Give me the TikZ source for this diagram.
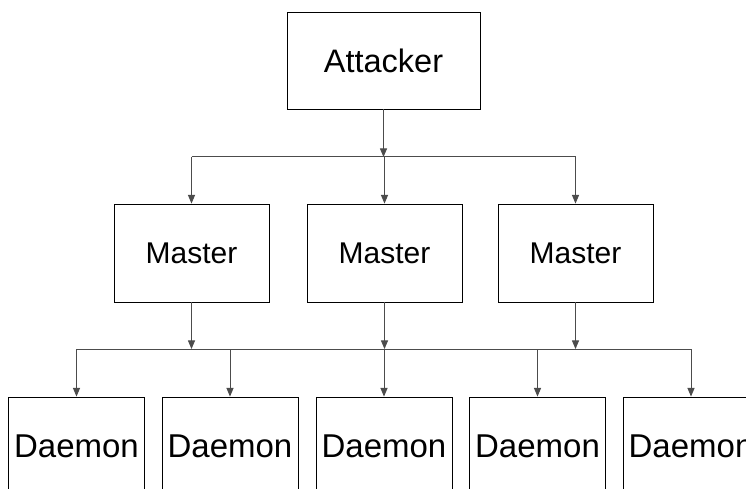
\documentclass[tikz,border=0pt]{standalone}
\usepackage{fontspec}
\setmainfont{Liberation Sans}
\usetikzlibrary{arrows}

\begin{document}
\begin{tikzpicture}[x=1pt,y=-1pt]
\tikzset{box/.style={draw=black,line width=0.9pt,minimum width=155pt,minimum height=98pt,inner sep=0pt,font=\fontsize{30}{36}\selectfont}}
\tikzset{daemonbox/.style={box,minimum width=136pt,font=\fontsize{33}{40}\selectfont}}
\tikzset{wire/.style={draw=black!70,line width=1pt}}
\tikzset{feed/.style={wire,-triangle 45}}

\useasboundingbox (0,0) rectangle (746,489);
\clip (0,0) rectangle (746,489);

\node[box,minimum width=193pt,minimum height=97pt,font=\fontsize{32.5}{39}\selectfont] (attacker) at (383.5,60.5) {Attacker};

\node[box] (master1) at (191.5,253) {Master};
\node[box] (master2) at (384.5,253) {Master};
\node[box] (master3) at (575.5,253) {Master};

\node[daemonbox] (daemon1) at (76.5,446) {Daemon};
\node[daemonbox] (daemon2) at (230,446) {Daemon};
\node[daemonbox] (daemon3) at (384,446) {Daemon};
\node[daemonbox] (daemon4) at (537.5,446) {Daemon};
\node[daemonbox] (daemon5) at (691,446) {Daemon};

% upper bus
\coordinate (top1) at (master1.north |- 0,157);
\coordinate (top2) at (master2.north |- 0,157);
\coordinate (top3) at (master3.north |- 0,157);
\draw[feed] (attacker.south) -- (attacker.south |- top2);
\draw[wire] (top1) -- (top3);
\draw[feed] (top1) -- (master1.north);
\draw[feed] (top2) -- (master2.north);
\draw[feed] (top3) -- (master3.north);

% lower bus
\coordinate (low1) at (daemon1.north |- 0,349);
\coordinate (low2) at (daemon2.north |- 0,349);
\coordinate (low3) at (daemon3.north |- 0,349);
\coordinate (low4) at (daemon4.north |- 0,349);
\coordinate (low5) at (daemon5.north |- 0,349);
\draw[feed] (master1.south) -- (master1.south |- low1);
\draw[feed] (master2.south) -- (master2.south |- low1);
\draw[feed] (master3.south) -- (master3.south |- low1);
\draw[wire] (low1) -- (low5);
\draw[feed] (low1) -- (daemon1.north);
\draw[feed] (low2) -- (daemon2.north);
\draw[feed] (low3) -- (daemon3.north);
\draw[feed] (low4) -- (daemon4.north);
\draw[feed] (low5) -- (daemon5.north);

\end{tikzpicture}
\end{document}
